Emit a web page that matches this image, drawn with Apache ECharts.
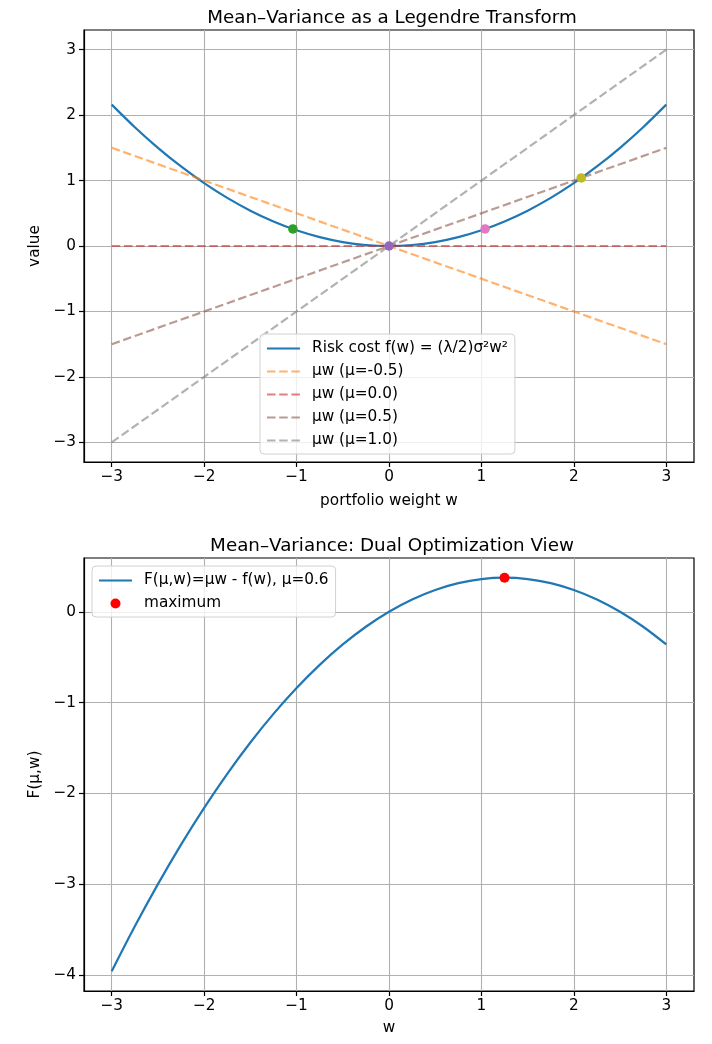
<!DOCTYPE html>
<html>
<head>
<meta charset="utf-8">
<script src="https://cdn.jsdelivr.net/npm/echarts@6/dist/echarts.min.js"></script>
<style>html,body{margin:0;padding:0;background:#fff}#c{width:712px;height:1044px}</style>
</head>
<body>
<div id="c"></div>
<script>
// ---- data ----
const wGrid = [-3,-2.75,-2.5,-2.25,-2,-1.75,-1.5,-1.25,-1,-0.75,-0.5,-0.25,0,0.25,0.5,0.75,1,1.25,1.5,1.75,2,2.25,2.5,2.75,3];
const riskCost = [2.16,1.815,1.5,1.215,0.96,0.735,0.54,0.375,0.24,0.135,0.06,0.015,0,0.015,0.06,0.135,0.24,0.375,0.54,0.735,0.96,1.215,1.5,1.815,2.16];
const lineW = [-3, 3];
const muLabels = ['μw (μ=-0.5)', 'μw (μ=0.0)', 'μw (μ=0.5)', 'μw (μ=1.0)'];
const lineMuNeg05 = [1.5, -1.5];
const lineMu00 = [0, 0];
const lineMu05 = [-1.5, 1.5];
const lineMu10 = [-3, 3];
const tangentW = [-1.04, 0, 1.04, 2.08];
const tangentF = [0.26, 0, 0.26, 1.04];
const dualF = [-3.96,-3.465,-3.0,-2.565,-2.16,-1.785,-1.44,-1.125,-0.84,-0.585,-0.36,-0.165,0,0.135,0.24,0.315,0.36,0.375,0.36,0.315,0.24,0.135,0,-0.165,-0.36];
const maxW = [1.25];
const maxF = [0.375];
const xTicks = [-3,-2,-1,0,1,2,3];
const yTicksTop = [-3,-2,-1,0,1,2,3];
const yTicksBottom = [-4,-3,-2,-1,0];

// ---- styling ----
const FONT = 'DejaVu Sans';
const FS = 15.3;
const TFS = 18.3;
const lineColors = ['#ff7f0e', '#d62728', '#8c564b', '#7f7f7f'];
const pointColors = ['#2ca02c', '#9467bd', '#e377c2', '#bcbd22'];
const fmt = v => (v < 0 ? '\u2212' + Math.abs(v) : String(v));
const pair = (xs, ys) => xs.map((x, i) => [x, ys[i]]);

function xAxis(gi, name, gap) {
  return {
    type: 'value', gridIndex: gi, min: -3.3, max: 3.3,
    name: name, nameLocation: 'middle', nameGap: gap,
    nameTextStyle: { fontFamily: FONT, fontSize: FS, color: '#000' },
    axisLine: { show: true, onZero: false, lineStyle: { color: '#000', width: 1.2 } },
    axisTick: { show: true, length: 5, customValues: xTicks, lineStyle: { color: '#000', width: 1.2 } },
    axisLabel: { customValues: xTicks, formatter: fmt, margin: 8, fontFamily: FONT, fontSize: FS, color: '#000' },
    splitLine: { show: true, lineStyle: { color: '#b0b0b0', width: 1.1 } }
  };
}
function yAxis(gi, name, gap, min, max, ticks) {
  return {
    type: 'value', gridIndex: gi, min: min, max: max,
    name: name, nameLocation: 'middle', nameGap: gap,
    nameTextStyle: { fontFamily: FONT, fontSize: FS, color: '#000' },
    axisLine: { show: true, onZero: false, lineStyle: { color: '#000', width: 1.2 } },
    axisTick: { show: true, length: 5, customValues: ticks, lineStyle: { color: '#000', width: 1.2 } },
    axisLabel: { customValues: ticks, formatter: fmt, margin: 8, fontFamily: FONT, fontSize: FS, color: '#000' },
    splitLine: { show: true, lineStyle: { color: '#b0b0b0', width: 1.1 } }
  };
}

const lineData = [lineMuNeg05, lineMu00, lineMu05, lineMu10];
const curveName = 'Risk cost f(w) = (λ/2)σ²w²';
const dualName = 'F(μ,w)=μw - f(w), μ=0.6';
const series = [
  { name: curveName, type: 'line', xAxisIndex: 0, yAxisIndex: 0,
    data: pair(wGrid, riskCost), smooth: 0.3, showSymbol: false, symbol: 'none',
    lineStyle: { color: '#1f77b4', width: 2.2 }, itemStyle: { color: '#1f77b4' }, z: 2 }
];
lineData.forEach((ys, i) => {
  series.push({ name: muLabels[i], type: 'line', xAxisIndex: 0, yAxisIndex: 0,
    data: pair(lineW, ys), showSymbol: false, symbol: 'none',
    lineStyle: { color: lineColors[i], width: 2.2, type: [8.5, 3.7], opacity: 0.6 },
    itemStyle: { color: lineColors[i], opacity: 0.6 }, z: 3 });
});
tangentW.forEach((w, i) => {
  series.push({ name: 'pt' + i, type: 'scatter', xAxisIndex: 0, yAxisIndex: 0,
    data: [[w, tangentF[i]]], symbol: 'circle', symbolSize: 9.5,
    itemStyle: { color: pointColors[i], opacity: 1 }, z: 5 });
});
series.push({ name: dualName, type: 'line', xAxisIndex: 1, yAxisIndex: 1,
  data: pair(wGrid, dualF), smooth: 0.3, showSymbol: false, symbol: 'none',
  lineStyle: { color: '#1f77b4', width: 2.2 }, itemStyle: { color: '#1f77b4' }, z: 2 });
series.push({ name: 'maximum', type: 'scatter', xAxisIndex: 1, yAxisIndex: 1,
  data: pair(maxW, maxF), symbol: 'circle', symbolSize: 10,
  itemStyle: { color: '#ff0000', opacity: 1 }, z: 5 });

const legendCommon = {
  orient: 'vertical', itemWidth: 33, itemHeight: 10, itemGap: 8,
  backgroundColor: 'rgba(255,255,255,0.8)', borderColor: '#d0d0d0', borderWidth: 1, borderRadius: 4,
  padding: [7, 7, 6, 6],
  textStyle: { fontFamily: FONT, fontSize: FS, color: '#000', padding: [0, 0, 0, 7] }
};
const lineItem = name => ({ name: name, itemStyle: { opacity: 0 } });

const option = {
  animation: false,
  backgroundColor: '#fff',
  title: [
    { text: 'Mean–Variance as a Legendre Transform', left: 387, top: 4, textAlign: 'center',
      textStyle: { fontFamily: FONT, fontSize: TFS, fontWeight: 'normal', color: '#000' } },
    { text: 'Mean–Variance: Dual Optimization View', left: 387, top: 532, textAlign: 'center',
      textStyle: { fontFamily: FONT, fontSize: TFS, fontWeight: 'normal', color: '#000' } }
  ],
  grid: [
    { left: 84, top: 30, width: 610, height: 432, show: true, borderColor: '#000', borderWidth: 1.2, backgroundColor: 'transparent' },
    { left: 84, top: 558, width: 610, height: 433, show: true, borderColor: '#000', borderWidth: 1.2, backgroundColor: 'transparent' }
  ],
  xAxis: [xAxis(0, 'portfolio weight w', 32), xAxis(1, 'w', 30)],
  yAxis: [yAxis(0, 'value', 40, -3.3, 3.3, yTicksTop), yAxis(1, 'F(μ,w)', 40, -4.177, 0.592, yTicksBottom)],
  legend: [
    Object.assign({}, legendCommon, { left: 260, top: 334,
      data: [curveName].concat(muLabels).map(lineItem) }),
    Object.assign({}, legendCommon, { left: 92, top: 566,
      data: [lineItem(dualName), { name: 'maximum', icon: 'circle' }] })
  ],
  series: series
};

const chart = echarts.init(document.getElementById('c'), null, { renderer: 'canvas' });
chart.setOption(option);
</script>
</body>
</html>
